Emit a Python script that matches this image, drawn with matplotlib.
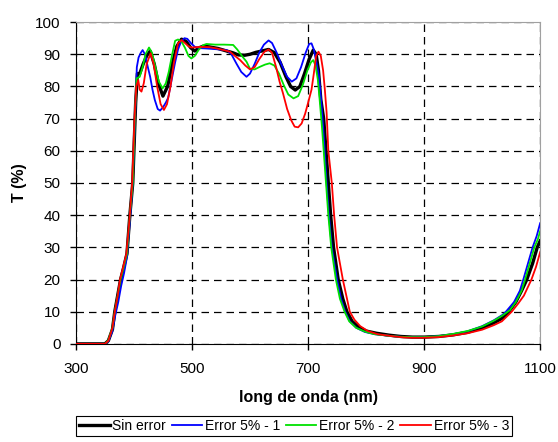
import matplotlib
matplotlib.use("Agg")
import matplotlib.pyplot as plt

plt.rcParams['font.family'] = ['Liberation Sans', 'DejaVu Sans']

# Sin error
wl_black = [300, 350, 356, 363, 367, 372, 377, 382, 388, 393, 398, 403, 406, 410, 416, 422, 428,
            435, 442, 450, 458, 466, 474, 482, 490, 498, 505, 512, 519, 530, 545, 560, 570, 580,
            591, 600, 610, 620, 632, 642, 652, 662, 670, 678, 686, 694, 702, 709, 714, 718, 722,
            727, 731, 735, 739, 744, 752, 760, 767, 776, 786, 800, 818, 840, 860, 880, 900, 925,
            950, 975, 1000, 1020, 1035, 1046, 1058, 1068, 1077, 1087, 1095, 1100]
t_black = [0, 0, 1, 4.5, 10, 15, 20, 23.5, 28, 40, 50, 75, 84, 84, 87, 89.5, 91,
           87, 81, 77, 80, 87, 92.5, 94.7, 94, 92, 91, 92, 92.5, 92.3, 91.8, 91, 90.5, 89.8,
           89.7, 90, 90.6, 91, 91.5, 90.5, 87.5, 83, 80, 78.9, 80, 84, 88.5, 91.3, 90, 85, 76,
           70, 60, 50, 40, 30, 20, 14, 10, 7, 5.4, 4, 3.3, 2.7, 2.3, 2.1, 2.1, 2.3,
           2.8, 3.6, 5, 6.5, 8, 10, 13, 16.5, 20, 25, 30, 32]

# Error 5% - 1
wl_blue = [300, 350, 356, 363, 368, 373, 378, 383, 388, 393, 398, 402, 405, 408, 412, 415, 419,
           424, 428, 432, 436, 441, 445, 450, 455, 459, 465, 471, 476, 481, 487, 492, 498, 505,
           515, 525, 540, 560, 568, 577, 585, 594, 600, 608, 616, 624, 632, 638, 646, 655, 664,
           672, 680, 688, 696, 702, 706, 710, 714, 719, 722, 725, 728, 732, 736, 741, 750, 757,
           764, 772, 783, 798, 815, 840, 860, 880, 900, 925, 950, 975, 1000, 1020, 1035, 1041,
           1055, 1065, 1071, 1087, 1094, 1100]
t_blue = [0, 0, 0.8, 4, 9, 13, 18, 22, 27, 38, 50, 70, 86, 89, 90.5, 91.3, 90,
          86, 83, 79, 75.8, 73, 72.5, 73.5, 75, 76.5, 82, 87.5, 91.5, 93.8, 95, 94.8, 93.5, 92.3,
          91.9, 91.8, 91.6, 91.3, 90, 87, 84.5, 83, 84, 87, 90.5, 93, 94.3, 93.5, 90.5, 86.5, 83,
          81.5, 82.5, 86, 90.5, 93.2, 93.4, 91.5, 88, 83, 77, 70, 62, 50, 40, 30, 20, 14,
          10, 7, 5, 3.7, 3, 2.5, 2.2, 2.1, 2.1, 2.4, 3, 3.9, 5.5, 7.3, 9, 10,
          13, 16.5, 20, 30, 33.5, 37.5]

# Error 5% - 2
wl_green = [300, 350, 356, 363, 367, 372, 377, 382, 388, 393, 398, 402, 404.6, 410, 415, 420, 426,
            431, 437, 443, 449.5, 455, 460, 466, 471, 476, 482, 488, 494, 499, 505, 512, 519, 525,
            540, 555, 571, 578, 586, 594, 600, 608, 617, 626, 634, 642, 650, 658, 666, 675, 683,
            691, 699, 705, 709, 713, 717, 720, 724, 727, 731, 735, 740, 748, 755, 763, 771, 783,
            798, 815, 840, 860, 880, 900, 925, 950, 975, 1000, 1020, 1035, 1048, 1058, 1068,
            1074, 1090, 1096, 1100]
t_green = [0, 0, 1.2, 5, 10, 15, 20, 23.5, 28, 40, 50, 72, 82.5, 83, 86, 90, 92.1,
           90.5, 86, 81.5, 79.4, 81, 84.5, 90, 94.2, 94.6, 94, 92, 89.5, 88.7, 89.5, 91.5, 92.8, 93.2,
           93, 93, 92.9, 91.5, 89.5, 87.7, 85.5, 85.3, 86.1, 86.8, 87.2, 86.5, 84, 80.5, 77.5, 76.3, 77,
           80.5, 85, 87.5, 88.2, 86.5, 82, 76, 67.5, 60, 50, 40, 30, 20, 14, 10, 7, 5,
           3.8, 3, 2.5, 2.2, 2.1, 2.1, 2.4, 3.1, 4, 5.4, 7.2, 8.8, 10.5, 13, 16.5,
           20, 30, 32.5, 35]

# Error 5% - 3
wl_red = [300, 350, 356, 363, 367, 372, 376, 381, 387, 392, 397, 401, 404, 407.5, 410, 413, 417,
          422, 428.7, 434, 440, 446, 451.7, 457, 463, 469, 476, 482, 488, 494, 499, 514, 530, 543,
          555, 565.5, 574, 583, 592, 600, 608, 616, 625, 632, 638, 645, 651, 657, 664, 671, 677,
          683, 689, 695, 701, 706, 710, 714, 718, 722, 726, 729, 732, 735, 738, 741, 745, 750,
          760, 766, 772, 780, 790, 803, 820, 845, 865, 880, 900, 925, 950, 975, 1000, 1020, 1034,
          1051, 1062, 1072, 1085, 1093, 1100]
t_red = [0, 0, 1, 5, 10, 15, 20, 23.5, 28, 38, 50, 70, 80, 82, 79, 78.4, 81,
         87, 90.3, 87, 80, 74.5, 72.7, 74.5, 80, 87.5, 93.4, 94.4, 93.5, 92.5, 92.1, 92.3, 92.2, 91.8,
         91.3, 90.8, 89.5, 88.2, 86.5, 85.3, 86, 88.5, 90.8, 91.5, 90.5, 86, 81.5, 77.8, 73, 69.5, 67.5,
         67.3, 68.5, 71.5, 75.5, 79, 84, 89.5, 90.8, 89.5, 85, 79, 72, 60, 55, 50, 40, 30,
         20, 15, 10, 7.5, 5.5, 4, 3, 2.4, 2, 1.9, 1.9, 2.1, 2.6, 3.3, 4.4, 5.8, 7,
         10, 12.5, 15, 20, 24, 28.5]

fig = plt.figure(figsize=(5.58, 4.42), dpi=100)
ax = fig.add_axes([0.136, 0.222, 0.832, 0.728])

ax.plot(wl_black, t_black, color='black', lw=2.4, label='Sin error', zorder=3)
ax.plot(wl_blue, t_blue, color='#0000ff', lw=1.3, label='Error 5% - 1', zorder=4)
ax.plot(wl_green, t_green, color='#00e000', lw=1.3, label='Error 5% - 2', zorder=4)
ax.plot(wl_red, t_red, color='#ff0000', lw=1.3, label='Error 5% - 3', zorder=5)

ax.set_xlim(300, 1100)
ax.set_ylim(0, 100)
ax.set_xticks([300, 500, 700, 900, 1100])
ax.set_yticks(range(0, 101, 10))
ax.tick_params(labelsize=11, direction='out', length=4, width=1)
ax.tick_params(axis='x', pad=9)
ax.tick_params(axis='y', pad=7)
ax.grid(True, color='black', linestyle=(0, (6, 4)), linewidth=0.9)
ax.set_axisbelow(True)

for s in ['top', 'right']:
    ax.spines[s].set_color('#a0a0a0')
for s in ['left', 'bottom']:
    ax.spines[s].set_color('black')

ax.set_xlabel('long de onda (nm)', fontsize=11.5, fontweight='bold', labelpad=10)
ax.set_ylabel('T (%)', fontsize=11.5, fontweight='bold', labelpad=6)

leg = fig.legend(loc='center', bbox_to_anchor=(0.527, 0.036), ncol=4, fontsize=10,
                 frameon=True, fancybox=False, edgecolor='black', framealpha=1,
                 handlelength=2.2, handletextpad=0.2, columnspacing=0.4,
                 borderpad=0.2, borderaxespad=0)
leg.get_frame().set_linewidth(0.8)

fig.savefig('out.png', dpi=100)
